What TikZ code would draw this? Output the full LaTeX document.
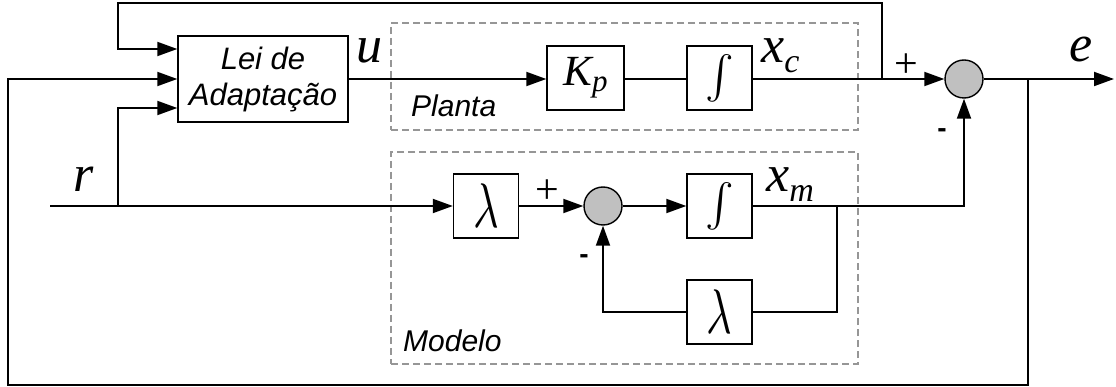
\documentclass[tikz,border=0pt]{standalone}
\usepackage{fontspec}
\usepackage{graphicx}
\setmainfont{Liberation Sans}
\newfontfamily\lblfont{Liberation Sans}
\newfontfamily\varfont{Liberation Serif}
\usetikzlibrary{arrows.meta}

\definecolor{sumgray}{RGB}{192,192,192}
\definecolor{dashgray}{RGB}{150,150,150}

% italic variable names with optional subscript
\newcommand\vname[1]{{\fontsize{52}{52}\selectfont\varfont\itshape #1}}
\newcommand\vsub[2]{{\fontsize{52}{52}\selectfont\varfont\itshape #1\raisebox{-10pt}{\fontsize{34}{34}\selectfont #2}}}
\newcommand\lam{\scalebox{4.4}[6.3]{$\lambda$}}
\newcommand\integ{\scalebox{4.3}{$\int$}}

\begin{document}
\begin{tikzpicture}[x=1pt,y=-1pt,
  blockbox/.style={draw, line width=1.4pt, inner sep=0pt, minimum width=65pt, minimum height=64pt},
  sumnode/.style={circle, draw, fill=sumgray, line width=1.4pt, inner sep=0pt, minimum size=38pt},
  wire/.style={line width=1.9pt},
  arr/.style={wire, -{Triangle[length=20pt,width=14pt]}},
  groupbox/.style={draw=dashgray, line width=1.2pt, dash pattern=on 7pt off 4pt, inner sep=0pt},
  grouplabel/.style={font=\fontsize{30}{36}\selectfont\lblfont\itshape, inner sep=0pt, anchor=base west},
  plussign/.style={inner sep=0pt, font=\fontsize{42}{42}\selectfont\varfont},
  minussign/.style={inner sep=0pt, font=\fontsize{28}{28}\selectfont\lblfont\bfseries},
  var/.style={inner sep=0pt, anchor=base}]

\useasboundingbox (0,0) rectangle (1116,387);

% dashed groups
\node[groupbox, minimum width=467pt, minimum height=107pt] (planta) at (624.5,76.5) {};
\node[groupbox, minimum width=467pt, minimum height=212pt] (modelo) at (624.5,258) {};
\node[grouplabel] (plantalbl) at (411,117) {Planta};
\node[grouplabel] (modelolbl) at (403,351) {Modelo};

% blocks
\node[blockbox, minimum width=170pt, minimum height=86pt, align=center,
      font=\fontsize{31}{36}\selectfont\lblfont\itshape] (lei) at (263,79) {Lei de\\Adaptação};
\node[blockbox, minimum width=77pt] (kp) at (585.5,78) {{\fontsize{43}{43}\selectfont\varfont\itshape K}\raisebox{-6pt}{\fontsize{31}{31}\selectfont\varfont\itshape p}};
\node[blockbox] (int1) at (719.5,78) {\integ};
\node[sumnode] (sum1) at (964,79) {};

\node[blockbox] (lam1) at (486,206) {\lam};
\node[sumnode] (sum2) at (603,206) {};
\node[blockbox] (int2) at (719.5,206) {\integ};
\node[blockbox] (lam2) at (719.5,312) {\lam};

% signal labels
\node[var] (ulbl) at (369,63) {\vname{u}};
\node[var] (rlbl) at (84,192) {\vname{r}};
\node[var, anchor=base west] (xclbl) at (761,63) {\vsub{x}{c}};
\node[var, anchor=base west] (xmlbl) at (766,192) {\vsub{x}{m}};
\node[var] (elbl) at (1081,62) {\vname{e}};

% signs at the summing junctions
\node[plussign] (p1) at (906,66) {+};
\node[minussign] (m1) at (942,133) {-};
\node[plussign] (p2) at (547,192) {+};
\node[minussign] (m2) at (584,259) {-};

% branch points and free ends
\coordinate (rin) at (50,206);
\coordinate (rsplit) at (118,206);
\coordinate (ctap) at (882,79);
\coordinate (topleft) at (118,3);
\coordinate (etap) at (1028,79);
\coordinate (botleft) at (8,385);
\coordinate (eout) at (1114,79);
\coordinate (mtap) at (837,206);

% plant path
\draw[arr] (lei.east |- sum1) -- (kp.west |- sum1);
\draw[wire] (kp.east |- sum1) -- (int1.west |- sum1);
\draw[arr] (int1.east |- sum1) -- (sum1.west);
\draw[arr] (sum1.east) -- (eout);

% reference path and model
\draw[arr] (rin) -- (lam1.west);
\draw[arr] (lam1.east) -- (sum2.west);
\draw[arr] (sum2.east) -- (int2.west);
\draw[arr] (int2.east) -| (sum1.south);
\draw[wire] (mtap) |- (lam2.east);
\draw[arr] (lam2.west) -| (sum2.south);

% inputs of the adaptation law
\draw[arr] (rsplit) |- ([yshift=-29pt]lei.west);
\draw[arr] (ctap) -- (ctap |- topleft) -- (topleft) |- ([yshift=30pt]lei.west);
\draw[arr] (etap) -- (etap |- botleft) -- (botleft) |- (lei.west);

\end{tikzpicture}
\end{document}
